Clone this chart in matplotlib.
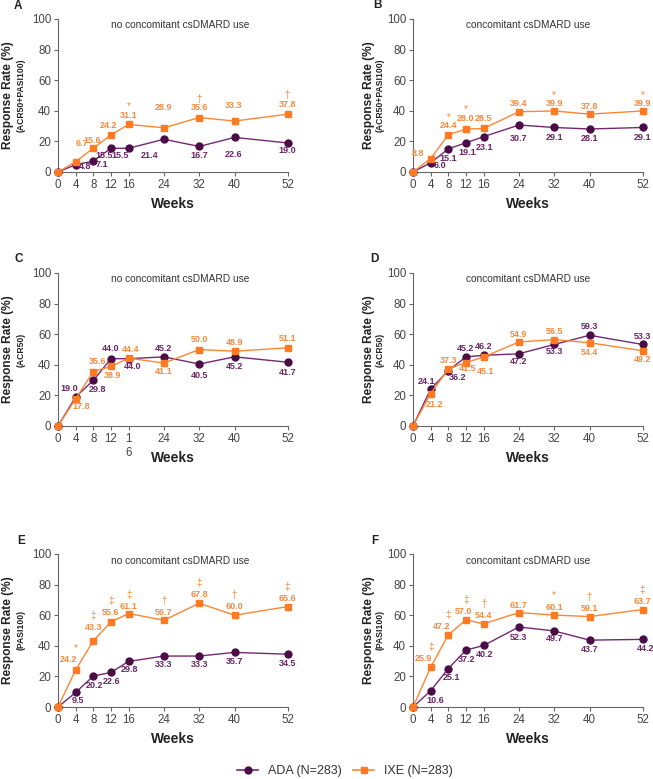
import matplotlib
matplotlib.use("Agg")
import matplotlib.pyplot as plt
from matplotlib.lines import Line2D

weeks = [0, 4, 8, 12, 16, 24, 32, 40, 52]
week_ticks = ["0", "4", "8", "12", "16", "24", "32", "40", "52"]
week_ticks_c = ["0", "4", "8", "12", "1\n6", "24", "32", "40", "52"]

ada_a = [0, 4.8, 7.1, 15.5, 15.5, 21.4, 16.7, 22.6, 19.0]
ixe_a = [0, 6.7, 15.6, 24.2, 31.1, 28.9, 35.6, 33.3, 37.8]
sig_a = ["", "", "", "", "*", "", "†", "", "†"]

ada_b = [0, 6.0, 15.1, 19.1, 23.1, 30.7, 29.1, 28.1, 29.1]
ixe_b = [0, 8.8, 24.4, 28.0, 28.5, 39.4, 39.9, 37.8, 39.9]
sig_b = ["", "", "*", "*", "", "", "*", "", "*"]

ada_c = [0, 19.0, 29.8, 44.0, 44.0, 45.2, 40.5, 45.2, 41.7]
ixe_c = [0, 17.8, 35.6, 38.9, 44.4, 41.1, 50.0, 48.9, 51.1]
sig_c = [""] * 9

ada_d = [0, 24.1, 36.2, 45.2, 46.2, 47.2, 53.3, 59.3, 53.3]
ixe_d = [0, 21.2, 37.3, 41.5, 45.1, 54.9, 56.5, 54.4, 49.2]
sig_d = [""] * 9

ada_e = [0, 9.5, 20.2, 22.6, 29.8, 33.3, 33.3, 35.7, 34.5]
ixe_e = [0, 24.2, 43.3, 55.6, 61.1, 56.7, 67.8, 60.0, 65.6]
sig_e = ["", "*", "‡", "‡", "‡", "†", "‡", "†", "‡"]

ada_f = [0, 10.6, 25.1, 37.2, 40.2, 52.3, 49.7, 43.7, 44.2]
ixe_f = [0, 25.9, 47.2, 57.0, 54.4, 61.7, 60.1, 59.1, 63.7]
sig_f = ["", "‡", "‡", "‡", "†", "", "*", "†", "‡"]

subtitles = ["no concomitant csDMARD use", "concomitant csDMARD use"]
ylabel_main = "Response Rate (%)"
ylabels2 = ["(ACR50+PASI100)", "(ACR50)", "(PASI100)"]
legend_labels = ["ADA (N=283)", "IXE (N=283)"]

# ---- layout: label offsets in pixels (dx, dy up) for points at weeks 4..52 ----
off_ada = {
    "A": [(9, -2), (9, -3), (-7, -7), (-9, -7), (-14, -16), (0, -9), (-1, -17), (0, -8)],
    "B": [(9, -3), (0, -10), (1, -10), (1, -11), (0, -13), (0, -10), (0, -9), (0, -10)],
    "C": [(-6, 8), (4, -9), (0, 10), (4, -8), (0, 8), (0, -11), (0, -10), (0, -10)],
    "D": [(-4, 8), (9, -7), (0, 8), (0, 9), (0, -8), (0, -7), (0, 9), (0, 8)],
    "E": [(2, -8), (1, -9), (1, -9), (1, -8), (0, -8), (0, -8), (0, -9), (0, -9)],
    "F": [(5, -10), (3, -9), (1, -9), (1, -9), (0, -11), (0, -8), (0, -9), (3, -9)],
}
off_ixe = {
    "A": [(6, 18), (-1, 8), (-2, 9), (0, 9), (0, 20), (0, 10), (-1, 16), (0, 10)],
    "B": [(-13, 5), (0, 9), (0, 11), (0, 10), (0, 8), (0, 7), (0, 8), (0, 7)],
    "C": [(6, -8), (4, 10), (2, -9), (2, 9), (0, -8), (0, 10), (0, 9), (0, 9)],
    "D": [(4, -11), (0, 8), (2, -6), (2, -15), (0, 8), (0, 8), (0, -10), (0, -9)],
    "E": [(-7, 10), (0, 13), (0, 9), (0, 7), (0, 8), (0, 9), (0, 9), (0, 8)],
    "F": [(-7, 9), (-7, 8), (-2, 8), (0, 8), (0, 7), (0, 8), (0, 8), (0, 8)],
}
sig_gap = {"A": 9, "B": 9, "C": 9, "D": 9, "E": 11.5, "F": 11.5}

panels = [
    ("A", ada_a, ixe_a, sig_a, 0, 0),
    ("B", ada_b, ixe_b, sig_b, 0, 1),
    ("C", ada_c, ixe_c, sig_c, 1, 0),
    ("D", ada_d, ixe_d, sig_d, 1, 1),
    ("E", ada_e, ixe_e, sig_e, 2, 0),
    ("F", ada_f, ixe_f, sig_f, 2, 1),
]

ADA_LINE = "#73296f"
ADA_MK = "#4a0d47"
ADA_TXT = "#6a2566"
IXE_LINE = "#ff8533"
IXE_MK = "#ff7a22"
IXE_TXT = "#f78a3e"
AX_COL = "#666666"
TXT = "#333333"

SANS = ["Liberation Sans", "DejaVu Sans"]
plt.rcParams["font.family"] = SANS

W, H = 653, 779
fig = plt.figure(figsize=(W / 100, H / 100), dpi=100)
lefts = [58, 413]
width = 229.5
tops = [19, 273, 554]
ah = 153
letter_pos = {"A": (18, 6), "B": (377, 5), "C": (19, 259), "D": (374, 259),
              "E": (21, 541), "F": (375, 541)}
sub_x = [0.533, 0.5]
ylab_off = [(-50, -37), (-44, -33)]

for letter, ada, ixe, sig, r, c in panels:
    ax = fig.add_axes([lefts[c] / W, 1 - (tops[r] + ah) / H, width / W, ah / H])
    ax.plot(weeks, ada, color=ADA_LINE, lw=1.0, marker="o", ms=5,
            mfc=ADA_MK, mec=ADA_MK, clip_on=False, zorder=3)
    ax.plot(weeks, ixe, color=IXE_LINE, lw=1.0, marker="s", ms=5,
            mfc=IXE_MK, mec=IXE_MK, clip_on=False, zorder=4)
    ax.set_xlim(0, 52)
    ax.set_ylim(0, 100)
    ax.set_xticks(weeks)
    ax.set_xticklabels(week_ticks_c if letter == "C" else week_ticks)
    ax.set_yticks([0, 20, 40, 60, 80, 100])
    ax.tick_params(colors=AX_COL, labelcolor="#444444", labelsize=8.3, length=3, width=0.8, pad=2)
    for s in ["top", "right"]:
        ax.spines[s].set_visible(False)
    for s in ["left", "bottom"]:
        ax.spines[s].set_color(AX_COL)
        ax.spines[s].set_linewidth(0.8)
    ax.text(0.5, -32 / ah, "Weeks", transform=ax.transAxes, ha="center", va="center",
            fontsize=10, fontweight="bold", color="#222222")
    ax.text(sub_x[c], 1 - 6.5 / ah, subtitles[c], transform=ax.transAxes, ha="center",
            va="center", fontsize=7.3, color=TXT)
    o1, o2 = ylab_off[c]
    ax.text(o1 / width, 0.5, ylabel_main, transform=ax.transAxes, rotation=90,
            ha="center", va="center", fontsize=8.6, fontweight="bold", color="#222222")
    ax.text(o2 / width, 0.5, ylabels2[r], transform=ax.transAxes, rotation=90,
            ha="center", va="center", fontsize=6.2, fontweight="bold", color="#222222")
    lx, ly = letter_pos[letter]
    fig.text(lx / W, 1 - ly / H, letter, fontsize=8.5, fontweight="bold",
             va="center", ha="center", color="#222222")
    for i in range(1, len(weeks)):
        dx, dy = off_ada[letter][i - 1]
        ax.annotate(f"{ada[i]:.1f}", (weeks[i], ada[i]), xytext=(dx, dy),
                    textcoords="offset pixels", ha="center", va="center",
                    fontsize=6.5, fontweight="bold", color=ADA_TXT, zorder=5,
                    annotation_clip=False)
        dx, dy = off_ixe[letter][i - 1]
        ax.annotate(f"{ixe[i]:.1f}", (weeks[i], ixe[i]), xytext=(dx, dy),
                    textcoords="offset pixels", ha="center", va="center",
                    fontsize=6.5, fontweight="bold", color=IXE_TXT, zorder=5,
                    annotation_clip=False)
        if sig[i]:
            ax.annotate(sig[i], (weeks[i], ixe[i]), xytext=(0, dy + sig_gap[letter]),
                        textcoords="offset pixels", ha="center", va="center",
                        fontsize=7, color=IXE_TXT, zorder=5,
                        annotation_clip=False)

handles = [
    Line2D([], [], color=ADA_LINE, lw=1.2, marker="o", ms=5, mfc=ADA_MK, mec=ADA_MK),
    Line2D([], [], color=IXE_LINE, lw=1.2, marker="s", ms=5, mfc=IXE_MK, mec=IXE_MK),
]
fig.legend(handles, legend_labels, loc="center", bbox_to_anchor=(345 / W, 1 - 771 / H),
           ncol=2, frameon=False, fontsize=9, handlelength=1.7, columnspacing=0.9,
           handletextpad=0.8, labelcolor="#333333")

fig.savefig("out.png", dpi=100)
